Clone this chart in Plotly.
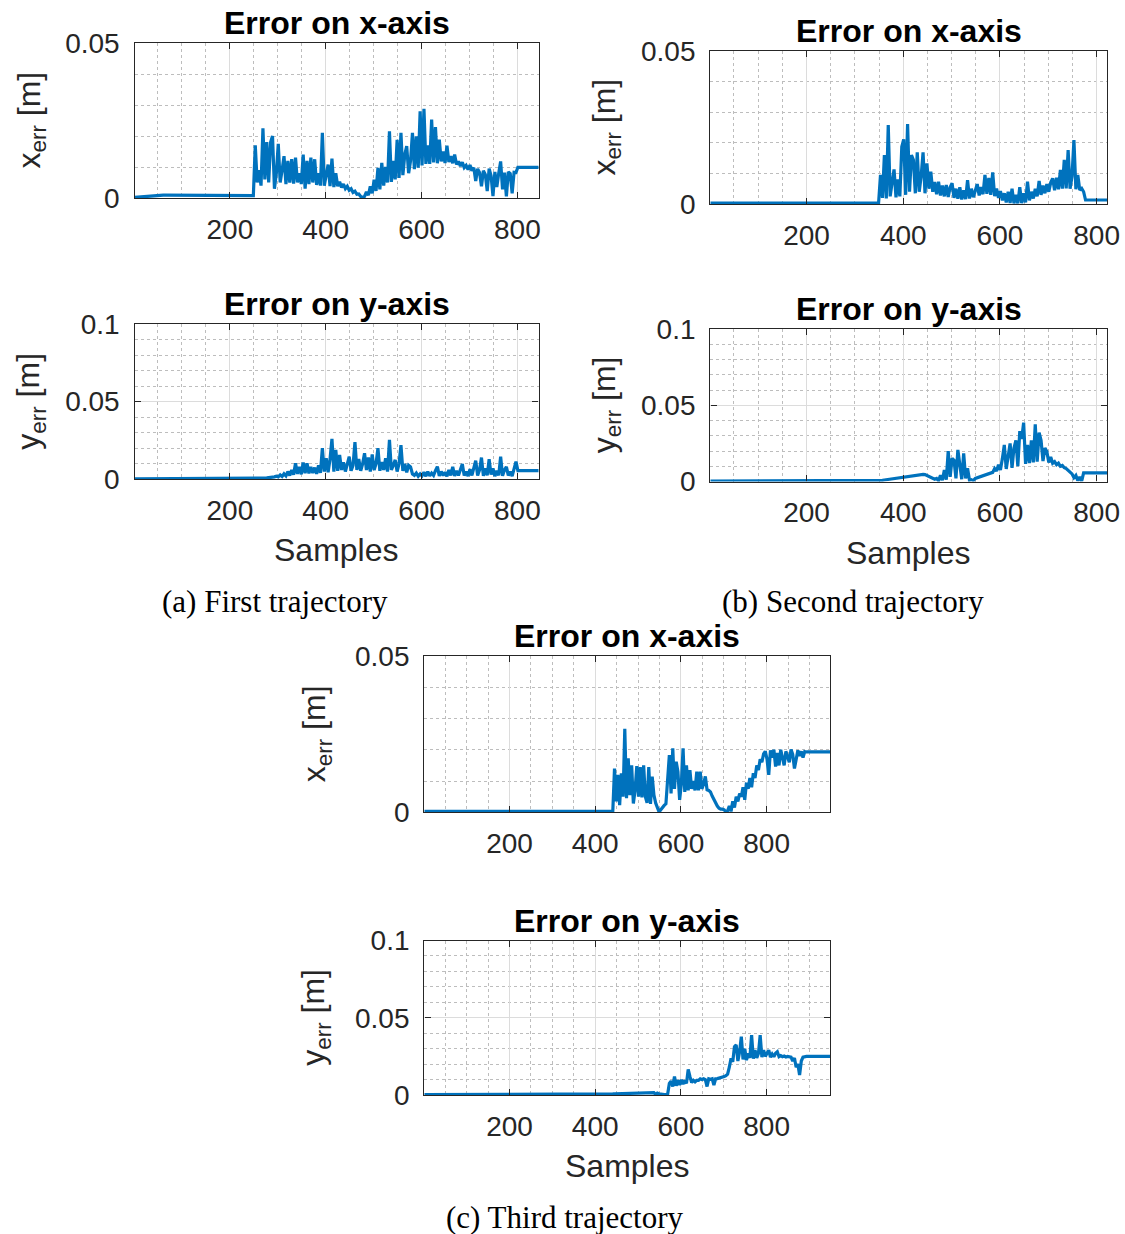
import plotly.graph_objects as go

# ---------------------------------------------------------------- data
# Error values in millimetres, one stored point every STEP samples,
# first stored point = sample 1.
STEP = 4

X_TICK_VALS = [200, 400, 600, 800]
X_TICK_TEXT = ["200", "400", "600", "800"]
YX_TICK_VALS = [0, 0.05]
YX_TICK_TEXT = ["0", "0.05"]
YY_TICK_VALS = [0, 0.05, 0.1]
YY_TICK_TEXT = ["0", "0.05", "0.1"]

N_SAMPLES_1 = 844
N_SAMPLES_2 = 822
N_SAMPLES_3 = 948

TRAJ1_XERR_MM = [
    0.2, 0.25, 0.3, 0.35, 0.45, 0.55, 0.65, 0.75, 0.8, 0.85,
    0.9, 0.9, 0.9, 0.9, 0.9, 0.9, 0.9, 0.9, 0.9, 0.9,
    0.9, 0.9, 0.88, 0.88, 0.88, 0.86, 0.86, 0.86, 0.85, 0.85,
    0.85, 0.84, 0.84, 0.83, 0.83, 0.82, 0.82, 0.82, 0.81, 0.8,
    0.8, 0.8, 0.8, 0.8, 0.79, 0.79, 0.79, 0.78, 0.78, 0.78,
    0.78, 0.77, 0.77, 0.77, 0.76, 0.76, 0.76, 0.75, 0.75, 0.75,
    0.75, 0.75, 0.75, 17, 5, 9, 4, 22.5, 6, 18,
    5, 18, 20, 3, 8, 17.5, 5, 9, 13.5, 4.5,
    12, 5, 12.5, 4.6, 13, 5, 8, 4.5, 14, 3,
    12, 4.5, 13, 5, 12.5, 4.2, 8, 4, 21, 4,
    7, 10.8, 3.8, 12.7, 3.5, 8, 3.8, 5.2, 3.4, 4.5,
    3.0, 3.8, 2.5, 3.0, 1.8, 2.2, 1.2, 1.3, 0.5, 0.1,
    0.5, 2.0, 0.9, 3.8, 1.5, 5.9, 2.3, 9.7, 2.8, 11.3,
    4.0, 10, 5, 21.5, 5.2, 12, 6, 18.8, 6.5, 21,
    7.4, 14, 16.7, 8, 12, 21, 9.3, 19.9, 9.8, 28,
    10.5, 28.8, 11, 17, 11, 25.3, 11.5, 22.9, 11.2, 18.8,
    11.8, 15, 11.3, 16.9, 11.6, 13.5, 11.2, 14, 10.8, 11.8,
    10.3, 11.5, 9.8, 10.5, 9.2, 10.6, 8.8, 9.8, 5.5, 9.4,
    8.2, 3.8, 8.8, 7.6, 2.2, 9.5, 7.2, 0.6, 8.4, 3.5,
    8, 11.8, 2.8, 8.2, 0.5, 8.4, 7.9, 1.5, 8.3, 8.2,
    9.9, 9.9, 9.9, 9.9, 9.9, 9.9, 9.9, 9.9, 9.9, 9.9,
    9.9, 9.9, 9.9,
]

TRAJ1_YERR_MM = [
    0.3, 0.3, 0.3, 0.3, 0.3, 0.3, 0.3, 0.3, 0.3, 0.3,
    0.3, 0.3, 0.3, 0.3, 0.3, 0.3, 0.3, 0.3, 0.3, 0.3,
    0.3, 0.3, 0.3, 0.3, 0.3, 0.3, 0.3, 0.3, 0.3, 0.3,
    0.3, 0.3, 0.3, 0.3, 0.3, 0.3, 0.3, 0.3, 0.3, 0.3,
    0.3, 0.3, 0.3, 0.3, 0.3, 0.3, 0.3, 0.3, 0.3, 0.3,
    0.3, 0.3, 0.3, 0.3, 0.3, 0.3, 0.3, 0.3, 0.3, 0.3,
    0.3, 0.3, 0.3, 0.3, 0.3, 0.4, 0.5, 0.6, 0.8, 0.9,
    1.0, 1.2, 1.4, 1.6, 2.0, 1.6, 2.8, 1.8, 3.5, 2.2,
    5, 2.5, 6, 3, 10.3, 3.5, 8, 3.2, 10.8, 4,
    10.3, 3.8, 8, 4, 7.5, 3.5, 9, 4.2, 20, 5,
    13.5, 4.5, 13, 26, 5, 19, 5.5, 15.7, 6, 11,
    5, 10, 14.6, 5.5, 9, 23.9, 6, 13, 5.5, 10,
    16.8, 6, 14, 5, 16, 6, 10, 20, 5.5, 11,
    6, 13.5, 5, 25.4, 6, 9, 12.5, 5, 10, 22,
    5.5, 10, 4.5, 9, 8, 3.4, 2.5, 4, 2, 3.5,
    2.2, 4.5, 2, 5, 2.2, 4, 2.5, 5.5, 8.2, 2.2,
    5, 2.5, 4.5, 2, 6, 2.5, 8, 2.2, 5.5, 2.5,
    6, 9.9, 2.5, 5, 2, 6.5, 2.5, 7, 12, 2.5,
    6, 14, 2.2, 7, 2.5, 12.9, 3, 7, 2, 5.5,
    2.5, 14.6, 2.2, 6, 8, 2.5, 5, 2, 6, 11.4,
    5.6, 5.6, 5.6, 5.6, 5.6, 5.6, 5.6, 5.6, 5.6, 5.6,
    5.6, 5.6, 5.6,
]

TRAJ2_XERR_MM = [
    0.3, 0.3, 0.3, 0.3, 0.3, 0.3, 0.3, 0.3, 0.3, 0.3,
    0.35, 0.4, 0.45, 0.5, 0.5, 0.5, 0.5, 0.5, 0.5, 0.5,
    0.5, 0.5, 0.5, 0.45, 0.45, 0.4, 0.4, 0.4, 0.35, 0.35,
    0.3, 0.3, 0.3, 0.3, 0.3, 0.3, 0.3, 0.3, 0.3, 0.3,
    0.3, 0.3, 0.3, 0.3, 0.3, 0.3, 0.3, 0.3, 0.3, 0.3,
    0.3, 0.3, 0.3, 0.3, 0.3, 0.3, 0.3, 0.3, 0.3, 0.3,
    0.3, 0.3, 0.3, 0.3, 0.3, 0.3, 0.3, 0.3, 0.3, 0.3,
    0.3, 0.3, 0.3, 0.3, 0.3, 0.3, 0.3, 0.3, 0.3, 0.3,
    0.3, 0.3, 0.3, 0.3, 0.3, 0.3, 0.3, 0.3, 9.5, 2,
    16, 1.8, 25.8, 2.5, 7, 11.3, 2.2, 8, 2.5, 18.7,
    21.1, 3, 26.1, 4, 16, 14.4, 3.5, 16.9, 4, 9,
    16.9, 3.5, 13.3, 5, 10.6, 4, 7.2, 3.2, 7.3, 2.8,
    6, 2.5, 6.2, 2.3, 5.5, 6.8, 2, 5, 1.7, 5.5,
    1.5, 4.5, 1.6, 7.8, 1.8, 5, 2.2, 4.5, 6.5, 2.8,
    5.5, 3.2, 9.5, 3.3, 8.5, 3, 10.3, 2.6, 5, 2,
    4.2, 1.2, 3.5, 0.5, 4, 0.3, 5, 0.2, 3, 0.2,
    5.5, 0.3, 3.5, 0.5, 7.3, 1.2, 4, 1.8, 5, 2.5,
    7.5, 3, 6, 3.5, 6.5, 4, 7, 8.4, 4.5, 8.6,
    4.8, 11.1, 5, 14.4, 5.1, 17.6, 5, 9, 20.9, 4.8,
    9.5, 4.6, 5.1, 4, 1.3, 1.3, 1.3, 1.3, 1.3, 1.3,
    1.3, 1.3, 1.3, 1.3, 1.3, 1.3, 1.3, 1.3, 1.3, 1.3,
]

TRAJ2_YERR_MM = [
    0.3, 0.3, 0.3, 0.3, 0.3, 0.3, 0.3, 0.3, 0.3, 0.3,
    0.3, 0.3, 0.3, 0.3, 0.3, 0.3, 0.3, 0.3, 0.3, 0.3,
    0.3, 0.3, 0.3, 0.3, 0.3, 0.3, 0.3, 0.3, 0.3, 0.3,
    0.3, 0.3, 0.3, 0.3, 0.3, 0.3, 0.3, 0.3, 0.3, 0.3,
    0.3, 0.3, 0.3, 0.3, 0.3, 0.3, 0.3, 0.3, 0.3, 0.3,
    0.3, 0.3, 0.3, 0.3, 0.3, 0.3, 0.3, 0.3, 0.3, 0.3,
    0.3, 0.3, 0.3, 0.3, 0.3, 0.3, 0.3, 0.3, 0.3, 0.3,
    0.3, 0.3, 0.3, 0.3, 0.3, 0.3, 0.3, 0.3, 0.3, 0.3,
    0.3, 0.3, 0.3, 0.3, 0.3, 0.3, 0.3, 0.4, 0.6, 0.8,
    1.0, 1.2, 1.4, 1.6, 1.8, 2.0, 2.2, 2.4, 2.6, 2.8,
    3.0, 3.2, 3.4, 3.6, 3.8, 4.0, 4.2, 4.4, 4.5, 4.6,
    4.7, 4.5, 4.0, 3.5, 3.0, 2.5, 1.5, 2.0, 0.5, 4,
    0.8, 7.5, 1.2, 20, 3, 15.2, 14, 2, 20.7, 11,
    1.5, 18.5, 2, 8.6, 0.8, 1.2, 0.6, 2, 2.4, 2.8,
    3.2, 3.6, 4.2, 4.6, 5, 5.5, 6, 8.5, 6.8, 11,
    7.5, 15, 24, 8.2, 16, 25, 9, 22, 27, 10,
    33, 28, 38.6, 11.5, 24, 12, 27, 12.5, 37.5, 13,
    32, 27, 13.4, 22, 19.6, 12.5, 16, 12, 13, 11,
    12, 10, 10.5, 9, 8.5, 7.5, 6, 5, 2.5, 4,
    0.5, 3, 0.3, 5.6, 5.6, 5.6, 5.6, 5.6, 5.6, 5.6,
    5.6, 5.6, 5.6, 5.6, 5.6, 5.6, 5.6, 5.6, 5.6, 5.6,
]

TRAJ3_XERR_MM = [
    0.3, 0.3, 0.3, 0.3, 0.3, 0.3, 0.3, 0.3, 0.3, 0.3,
    0.35, 0.4, 0.45, 0.5, 0.5, 0.5, 0.5, 0.5, 0.5, 0.5,
    0.5, 0.5, 0.45, 0.45, 0.4, 0.4, 0.35, 0.35, 0.3, 0.3,
    0.3, 0.3, 0.3, 0.3, 0.3, 0.3, 0.3, 0.3, 0.3, 0.3,
    0.3, 0.3, 0.3, 0.3, 0.3, 0.3, 0.3, 0.3, 0.3, 0.3,
    0.3, 0.3, 0.3, 0.3, 0.3, 0.3, 0.3, 0.3, 0.3, 0.3,
    0.3, 0.3, 0.3, 0.3, 0.3, 0.3, 0.3, 0.3, 0.3, 0.3,
    0.3, 0.3, 0.3, 0.3, 0.3, 0.3, 0.3, 0.3, 0.3, 0.3,
    0.3, 0.3, 0.3, 0.3, 0.3, 0.3, 0.3, 0.3, 0.3, 0.3,
    0.3, 0.3, 0.3, 0.3, 0.3, 0.3, 0.3, 0.3, 0.3, 0.3,
    0.3, 0.3, 0.3, 0.3, 0.3, 0.3, 0.3, 0.3, 0.3, 0.3,
    0.3, 14, 3.5, 12, 2.3, 12.5, 5, 26.7, 4.5, 17.3,
    5.5, 15, 2.8, 7, 14.8, 5, 14.5, 4.8, 15, 5,
    3, 14.5, 2.7, 11.4, 5.5, 3, 1.5, 0.1, 0.8, 1.6,
    2.2, 2.7, 12, 18.3, 6, 20.5, 7.5, 16.2, 13, 4,
    9, 20.5, 6.5, 15, 7, 13.5, 7.5, 10, 7, 13,
    7, 13, 7.5, 9, 11.5, 7.2, 7, 6.5, 5.2, 4,
    3, 2, 1.3, 1, 1, 0.8, 0.1, 0.5, 2, 0.3,
    3.5, 1.5, 5, 3.5, 6, 5, 8, 4, 9.5, 7.5,
    11, 8, 12.5, 11, 15, 13.5, 17, 16, 18.7, 19.5,
    17, 12, 19.8, 17.5, 20, 14.6, 19, 15, 20, 17.5,
    15, 19.5, 18, 16, 20.1, 18.5, 14, 16.5, 19.8, 18,
    19.5, 17.5, 19.4, 19.3, 19.3, 19.3, 19.3, 19.3, 19.3, 19.3,
    19.3, 19.3, 19.3, 19.3, 19.3, 19.3, 19.3, 19.3, 19.3, 19.3,
]

TRAJ3_YERR_MM = [
    0.2, 0.2, 0.2, 0.2, 0.2, 0.2, 0.2, 0.2, 0.2, 0.2,
    0.2, 0.2, 0.2, 0.2, 0.2, 0.2, 0.2, 0.2, 0.2, 0.2,
    0.2, 0.2, 0.2, 0.2, 0.2, 0.2, 0.2, 0.2, 0.2, 0.2,
    0.2, 0.2, 0.2, 0.2, 0.2, 0.2, 0.2, 0.2, 0.2, 0.2,
    0.2, 0.2, 0.2, 0.2, 0.2, 0.2, 0.2, 0.2, 0.2, 0.2,
    0.2, 0.2, 0.2, 0.2, 0.2, 0.2, 0.2, 0.2, 0.2, 0.2,
    0.2, 0.2, 0.2, 0.2, 0.2, 0.2, 0.2, 0.2, 0.2, 0.2,
    0.2, 0.2, 0.2, 0.2, 0.2, 0.2, 0.2, 0.2, 0.2, 0.2,
    0.2, 0.2, 0.2, 0.2, 0.2, 0.2, 0.2, 0.2, 0.2, 0.2,
    0.2, 0.2, 0.2, 0.2, 0.2, 0.2, 0.2, 0.2, 0.2, 0.2,
    0.2, 0.3, 0.3, 0.35, 0.4, 0.45, 0.5, 0.55, 0.6, 0.65,
    0.7, 0.75, 0.8, 0.85, 0.9, 0.95, 1.0, 1.05, 1.1, 1.15,
    1.15, 1.2, 1.25, 1.3, 1.35, 1.4, 1.45, 1.5, 1.55, 1.6,
    1.6, 1.65, 1.7, 1.7, 1.5, 0.3, 1.2, 0.8, 0.5, 0.3,
    0.2, 0.3, 0.5, 7.5, 9, 5.5, 11.9, 6, 9.5, 6.5,
    9.8, 7, 9.5, 7.5, 16.6, 12, 8, 9.5, 8.5, 9.5,
    9.5, 10.5, 10, 10.5, 10, 5.5, 10.5, 10.2, 10.5, 6.5,
    10.5, 10.6, 10.8, 11, 11.3, 11.9, 12.5, 13.5, 18, 23.7,
    21.5, 31.3, 32.4, 22, 28, 37.8, 23, 30, 22.5, 27,
    24, 38.8, 23.5, 29, 24, 27, 38.8, 24.5, 29, 25,
    27, 29, 24.5, 26.5, 24.8, 27, 28, 24.8, 25.5, 24.8,
    25.2, 24.6, 25, 24.8, 24.5, 22, 24, 18, 20, 12.9,
    22, 24.5, 25, 25, 25, 25, 25, 25, 25, 25,
    25, 25, 25, 25, 25, 25, 25, 25, 25, 25,
]

TITLE_X = "Error on x-axis"
TITLE_Y = "Error on y-axis"
YLABEL_X = "x<sub>err</sub> [m]"
YLABEL_Y = "y<sub>err</sub> [m]"
XLABEL = "Samples"
CAPTIONS = ["(a) First trajectory", "(b) Second trajectory", "(c) Third trajectory"]

# ---------------------------------------------------------------- layout
W, H = 1125, 1234
LINE_COLOR = "#0072BD"
INK = "#262626"
SANS = "Liberation Sans, Arial, Helvetica, sans-serif"
SERIF = "Liberation Serif, Times New Roman, serif"

# pixel boxes of the six axes: (left, right, top, bottom)
PANELS = [
    dict(series=TRAJ1_XERR_MM, n=N_SAMPLES_1, box=(134.5, 538.5, 43, 198), kind="x"),
    dict(series=TRAJ1_YERR_MM, n=N_SAMPLES_1, box=(134.5, 538.5, 324, 479.3), kind="y"),
    dict(series=TRAJ2_XERR_MM, n=N_SAMPLES_2, box=(710.3, 1107.3, 51, 204), kind="x"),
    dict(series=TRAJ2_YERR_MM, n=N_SAMPLES_2, box=(710.3, 1107.3, 329, 481.5), kind="y"),
    dict(series=TRAJ3_XERR_MM, n=N_SAMPLES_3, box=(424.3, 830, 656, 812.3), kind="x"),
    dict(series=TRAJ3_YERR_MM, n=N_SAMPLES_3, box=(424.3, 830, 940.5, 1095), kind="y"),
]

YLABEL_XPOS = [31, 31, 606, 606, 316, 316]


def fx(px):
    return px / W


def fy(py):
    return 1 - py / H


fig = go.Figure()
layout = dict(
    template="none",
    width=W, height=H,
    margin=dict(l=0, r=0, t=0, b=0, pad=0, autoexpand=False),
    paper_bgcolor="white", plot_bgcolor="white", showlegend=False,
)
annotations = []

tick_font = dict(family=SANS, size=28, color=INK)
label_font = dict(family=SANS, size=32, color=INK)
title_font = dict(family=SANS, size=32, color="black")

for k, p in enumerate(PANELS):
    idx = k + 1
    xs = [1 + STEP * i for i in range(len(p["series"]))]
    ys = [v / 1000.0 for v in p["series"]]
    xa = "x" if idx == 1 else f"x{idx}"
    ya = "y" if idx == 1 else f"y{idx}"
    fig.add_trace(go.Scatter(
        x=xs, y=ys, mode="lines", xaxis=xa, yaxis=ya,
        line=dict(color=LINE_COLOR, width=3.2), hoverinfo="skip",
    ))
    left, right, top, bottom = p["box"]
    common = dict(
        showline=True, linecolor=INK, linewidth=1.4, mirror="ticks",
        ticks="inside", ticklen=6, tickwidth=1.2, tickcolor=INK,
        showgrid=True, gridcolor="#dcdcdc", gridwidth=1, zeroline=False,
        tickfont=tick_font, fixedrange=True, layer="above traces",
        automargin=False,
    )
    xkey = "xaxis" if idx == 1 else f"xaxis{idx}"
    ykey = "yaxis" if idx == 1 else f"yaxis{idx}"
    layout[xkey] = dict(
        common, domain=[fx(left), fx(right)], anchor=ya,
        range=[1, p["n"]], tickmode="array",
        tickvals=X_TICK_VALS, ticktext=X_TICK_TEXT, ticklabelstandoff=6,
        minor=dict(tickmode="linear", tick0=0, dtick=50, showgrid=True,
                   gridcolor="#bdbdbd", griddash="dot", gridwidth=1, ticks=""),
    )
    if p["kind"] == "x":
        yr, tv, tt = [0, 0.05], YX_TICK_VALS, YX_TICK_TEXT
    else:
        yr, tv, tt = [0, 0.1], YY_TICK_VALS, YY_TICK_TEXT
    layout[ykey] = dict(
        common, domain=[fy(bottom), fy(top)], anchor=xa,
        range=yr, tickmode="array", tickvals=tv, ticktext=tt,
        ticklabelstandoff=8,
        minor=dict(tickmode="linear", tick0=0, dtick=0.01, showgrid=True,
                   gridcolor="#bdbdbd", griddash="dot", gridwidth=1, ticks=""),
    )
    cx = (left + right) / 2
    # title
    annotations.append(dict(
        text="<b>" + (TITLE_X if p["kind"] == "x" else TITLE_Y) + "</b>",
        x=fx(cx), y=fy(top - 20), xref="paper", yref="paper",
        xanchor="center", yanchor="middle", showarrow=False, font=title_font,
    ))
    # y label
    annotations.append(dict(
        text=YLABEL_X if p["kind"] == "x" else YLABEL_Y,
        x=fx(YLABEL_XPOS[k]), y=fy((top + bottom) / 2), xref="paper", yref="paper",
        xanchor="center", yanchor="middle", textangle=-90, showarrow=False,
        font=label_font,
    ))
    if p["kind"] == "y":
        annotations.append(dict(
            text=XLABEL, x=fx(cx), y=fy(bottom + 71), xref="paper", yref="paper",
            xanchor="center", yanchor="middle", showarrow=False, font=label_font,
        ))

CAPTION_POS = [(275, 601), (853, 601), (564, 1217)]
for text, (cx, cy) in zip(CAPTIONS, CAPTION_POS):
    annotations.append(dict(
        text=text, x=fx(cx), y=fy(cy), xref="paper", yref="paper",
        xanchor="center", yanchor="middle", showarrow=False,
        font=dict(family=SERIF, size=31, color="black"),
    ))

layout["annotations"] = annotations
fig.update_layout(**layout)
fig.write_html("out.html")
